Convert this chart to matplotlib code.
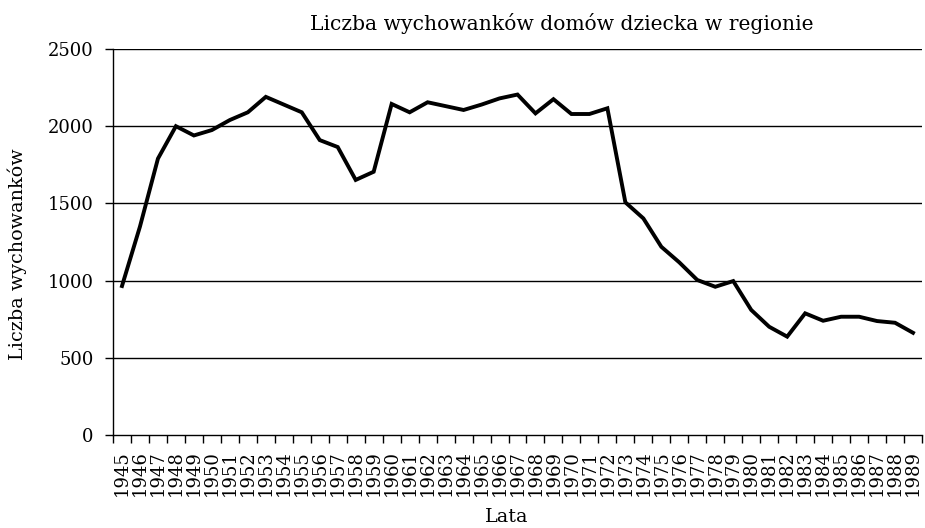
import matplotlib
matplotlib.use("Agg")
import matplotlib.pyplot as plt
from matplotlib.ticker import FixedLocator

years = list(range(1945, 1990))
values = [965, 1350, 1790, 2000, 1940, 1975, 2040, 2090, 2190, 2140, 2090,
          1910, 1865, 1652, 1705, 2144, 2090, 2155, 2130, 2105, 2140, 2180,
          2205, 2083, 2175, 2079, 2079, 2116, 1507, 1403, 1219, 1118, 1004,
          960, 997, 810, 701, 637, 788, 740, 766, 766, 738, 727, 662]
y_ticks = [0, 500, 1000, 1500, 2000, 2500]
title = "Liczba wychowanków domów dziecka w regionie"
ylabel = "Liczba wychowanków"
xlabel = "Lata"

plt.rcParams['font.family'] = ['DejaVu Serif']
fig = plt.figure(figsize=(9.25, 5.28), dpi=100)
ax = fig.add_axes([113/925, 1-435/528, (922-113)/925, (435-49)/528])

x = list(range(len(years)))
ax.plot(x, values, color='black', lw=2.8, solid_joinstyle='miter')

ax.set_xlim(-0.5, len(years) - 0.5)
ax.set_ylim(0, 2500)
ax.set_yticks(y_ticks)
ax.set_yticklabels([str(v) for v in y_ticks], fontsize=13)
for v in y_ticks[1:]:
    ax.axhline(v, color='black', lw=1.0, zorder=0)

ax.set_xticks(x)
ax.set_xticklabels([str(y) for y in years], rotation=90, fontsize=13)
ax.xaxis.set_minor_locator(FixedLocator([i - 0.5 for i in range(len(years) + 1)]))
ax.tick_params(axis='x', which='major', length=0, pad=11)
ax.tick_params(axis='x', which='minor', length=6, width=1, color='black', direction='out')
ax.tick_params(axis='y', which='major', length=6, width=1, color='black', pad=8, direction='out')

for s in ['top', 'right']:
    ax.spines[s].set_visible(False)
for s in ['left', 'bottom']:
    ax.spines[s].set_color('black')
    ax.spines[s].set_linewidth(1.0)

fig.text(562/925, 1-23/528, title, ha='center', va='center', fontsize=14.6)
fig.text(17/925, 1-254/528, ylabel, ha='center', va='center', rotation=90, fontsize=13.8)
fig.text(507/925, 1-517/528, xlabel, ha='center', va='center', fontsize=13.8)

fig.savefig("out.png", dpi=100, facecolor='white')
